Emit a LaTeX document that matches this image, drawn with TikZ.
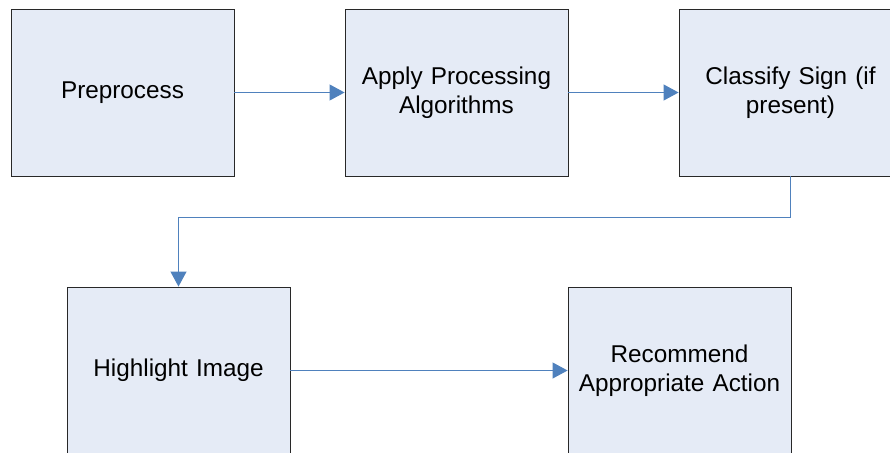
\documentclass[tikz,border=0pt]{standalone}
\usepackage{fontspec}
\setmainfont{Liberation Sans}
\usetikzlibrary{arrows.meta}
\definecolor{boxfill}{RGB}{229,235,246}
\definecolor{boxline}{RGB}{40,40,40}
\definecolor{arrowblue}{RGB}{79,129,189}
\tikzset{
  procbox/.style={draw=boxline, line width=0.9pt, fill=boxfill, minimum width=223pt, minimum height=167pt,
    inner sep=0pt, align=center, text width=215pt, font=\fontsize{24.3}{29}\selectfont, text=black},
  flow/.style={draw=arrowblue, line width=1pt, -{Triangle[length=15pt,width=16pt]}}
}
\begin{document}
\begin{tikzpicture}[x=1pt,y=-1pt]
\useasboundingbox (0,0) rectangle (890,452);
\clip (0,0) rectangle (890,452);
\fill[white] (0,0) rectangle (890,452);
\node[procbox] (b1) at (122.5,92.5) {Preprocess};
\node[procbox] (b2) at (456.5,92.5) {Apply Processing\\Algorithms};
\node[procbox] (b3) at (790.5,92.5) {Classify Sign (if\\present)};
\node[procbox] (b4) at (178.5,370.5) {Highlight Image};
\node[procbox] (b5) at (679.5,370.5) {Recommend\\Appropriate Action};
\coordinate (k) at (0,217);
\draw[flow] (b1.east) -- (b2.west);
\draw[flow] (b2.east) -- (b3.west);
\draw[flow] (b3.south) -- (b3.south |- k) -| (b4.north);
\draw[flow] (b4.east) -- (b5.west);
\end{tikzpicture}
\end{document}
